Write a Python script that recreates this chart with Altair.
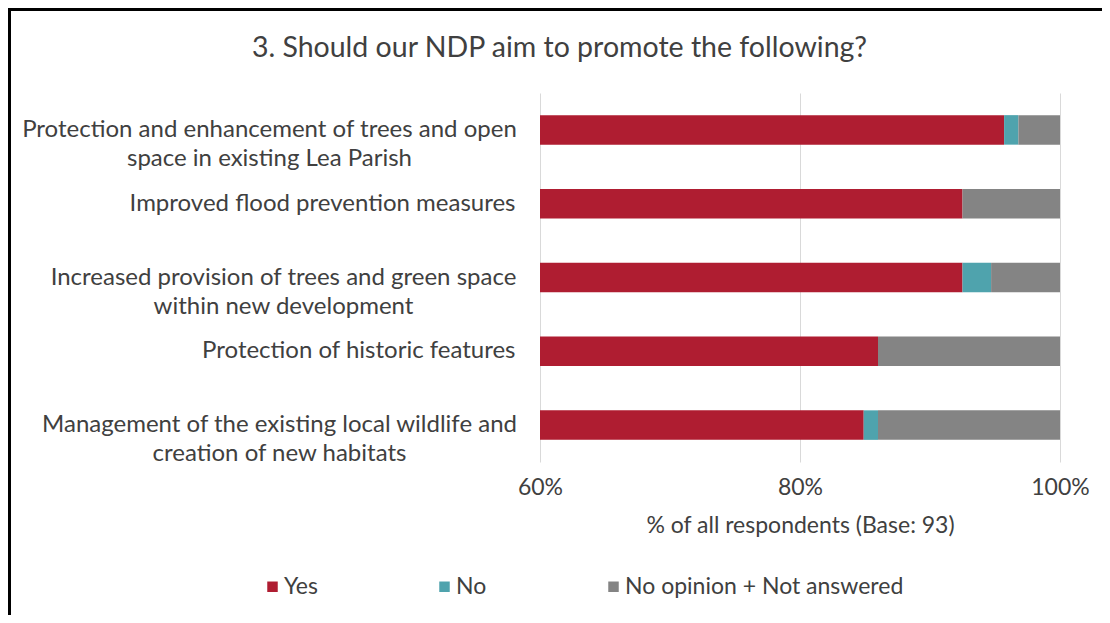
import altair as alt
import pandas as pd

title_text = "3. Should our NDP aim to promote the following?"
categories = [
    "Protection and enhancement of trees and open|space in existing Lea Parish",
    "Improved flood prevention measures",
    "Increased provision of trees and green space|within new development",
    "Protection of historic features",
    "Management of the existing local wildlife and|creation of new habitats",
]
yes_pct = [95.7, 92.5, 92.5, 86.0, 84.9]
no_pct = [1.1, 0.0, 2.2, 0.0, 1.1]
other_pct = [3.2, 7.5, 5.3, 14.0, 14.0]
series = ["Yes", "No", "No opinion + Not answered"]
colors = ["#AF1D31", "#4FA3AD", "#848484"]
x_ticks = [60, 80, 100]

rows = []
for i, c in enumerate(categories):
    for j, (s, v) in enumerate(zip(series, [yes_pct[i], no_pct[i], other_pct[i]])):
        rows.append({"cat": c, "series": s, "value": v, "ord": j})
df = pd.DataFrame(rows)

FONT = "Lato"
TXT = "#404040"

# two-line labels are centred on their longest line, as in the reference
pad_cond = [
    {"test": "indexof(datum.value, 'open|') >= 0", "value": 271},
    {"test": "indexof(datum.value, 'space|') >= 0", "value": 257},
    {"test": "indexof(datum.value, 'and|') >= 0", "value": 261},
]
align_cond = {"test": "indexof(datum.value, '|') >= 0", "value": "center"}

bars = alt.Chart(df).mark_bar(clip=True).encode(
    y=alt.Y("cat:N", sort=categories, title=None,
            scale=alt.Scale(paddingInner=0.6, paddingOuter=0.3),
            axis=alt.Axis(labelExpr="split(datum.label, '|')",
                          labelAlign={"condition": align_cond, "value": "right"},
                          labelPadding={"condition": pad_cond, "value": 25},
                          labelFontSize=24, labelFont=FONT,
                          labelColor=TXT, labelLineHeight=29,
                          domain=False, ticks=False, grid=False, labelLimit=700)),
    x=alt.X("value:Q", stack="zero",
            scale=alt.Scale(domain=[60, 100], nice=False, zero=False),
            title="% of all respondents (Base: 93)",
            axis=alt.Axis(values=x_ticks, labelExpr="datum.value + '%'",
                          grid=True, gridColor="#D9D9D9", domain=False, ticks=False,
                          labelFlush=False,
                          labelPadding=14, labelFontSize=23, labelFont=FONT,
                          labelColor=TXT, titleFont=FONT, titleFontSize=23,
                          titleFontWeight="normal", titleColor=TXT,
                          titlePadding=15)),
    color=alt.Color("series:N", sort=series,
                    scale=alt.Scale(domain=series, range=colors),
                    legend=alt.Legend(title=None, orient="none", direction="horizontal",
                                      legendX=-279, legendY=482, symbolType="square",
                                      symbolSize=110, symbolStrokeWidth=0,
                                      labelOffset=0,
                                      labelFont=FONT, labelFontSize=23, labelLimit=500,
                                      labelColor=TXT, columnPadding=115)),
    order=alt.Order("ord:Q"),
)

title = alt.Chart(pd.DataFrame({"t": [title_text]})).mark_text(
    font=FONT, fontSize=28.5, color=TXT, align="center", baseline="middle"
).encode(text="t:N", x=alt.value(19.5), y=alt.value(-45))

frame_top = alt.Chart(df).mark_rule(color="black", strokeWidth=3).encode(
    x=alt.value(-532), x2=alt.value(570), y=alt.value(-83.5))
frame_left = alt.Chart(df).mark_rule(color="black", strokeWidth=3).encode(
    x=alt.value(-530.5), y=alt.value(-85), y2=alt.value(530))

chart = alt.layer(bars, title, frame_top, frame_left).properties(
    width=520, height=369,
    padding={"left": 532, "top": 85, "right": 42, "bottom": 153},
    autosize=alt.AutoSizeParams(type="none"),
).configure(background="white").configure_view(stroke="transparent")

chart.save("out.html", embed_options={"renderer": "svg", "actions": False})
